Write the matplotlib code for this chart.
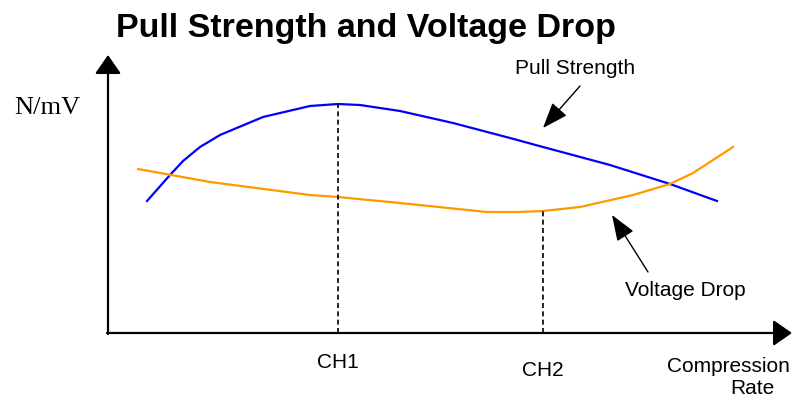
import matplotlib
matplotlib.use("Agg")
import matplotlib.pyplot as plt

# Data (arbitrary units: compression rate vs N/mV)
pull_x = [3.9, 6.2, 7.5, 9.2, 11.2, 15.5, 20.2, 23.0, 25.2, 29.2, 34.5, 40.2, 43.5, 50.2, 56.2, 60.9]
pull_y = [13.2, 15.8, 17.2, 18.6, 19.8, 21.6, 22.7, 22.9, 22.8, 22.2, 21.0, 19.5, 18.6, 16.8, 14.9, 13.2]
volt_x = [3.0, 10.2, 20.2, 23.0, 29.2, 37.9, 40.9, 43.5, 47.2, 52.5, 56.2, 58.5, 62.5]
volt_y = [16.4, 15.1, 13.8, 13.6, 13.0, 12.1, 12.1, 12.2, 12.6, 13.8, 14.9, 16.0, 18.6]
ch_labels = ["CH1", "CH2"]
ch_x = [23.0, 43.5]
ch_top = [22.9, 12.2]

fig = plt.figure(figsize=(7.93, 4.0), dpi=100)
ax = fig.add_axes([0, 0, 1, 1])
ax.set_xlim(-10.8, 68.5)
ax.set_ylim(-6.7, 33.3)
ax.axis("off")

sans = ["Liberation Sans", "DejaVu Sans"]
serif = ["Liberation Serif", "DejaVu Serif"]
lab_fs = 15

# Axes with arrow heads
axis_style = "-|>,head_length=1.15,head_width=0.8"
ax.annotate("", xy=(0, 27.8), xytext=(0, -0.1),
            arrowprops=dict(arrowstyle=axis_style, mutation_scale=10, lw=1.6,
                            color="black", shrinkA=0, shrinkB=0))
ax.annotate("", xy=(68.4, 0), xytext=(-0.1, 0),
            arrowprops=dict(arrowstyle=axis_style, mutation_scale=10, lw=1.6,
                            color="black", shrinkA=0, shrinkB=0))

# Curves
ax.plot(pull_x, pull_y, color="#0000FF", lw=1.6, solid_joinstyle="round")
ax.plot(volt_x, volt_y, color="#FF9900", lw=1.6, solid_joinstyle="round")

# Dashed markers
for cx, top in zip(ch_x, ch_top):
    ax.plot([cx, cx], [0, top], color="black", lw=1.2, ls=(0, (3, 2)))
ax.text(ch_x[0], -2.9, ch_labels[0], ha="center", va="center", fontsize=lab_fs, family=sans)
ax.text(ch_x[1], -3.7, ch_labels[1], ha="center", va="center", fontsize=lab_fs, family=sans)

ax.text(62.0, -3.4, "Compression", ha="center", va="center", fontsize=lab_fs, family=sans)
ax.text(64.4, -5.6, "Rate", ha="center", va="center", fontsize=lab_fs, family=sans)

ax.text(-6.1, 22.5, "N/mV", ha="center", va="center", fontsize=19, family=serif)

# Series labels with arrows
arrow_style = "-|>,head_length=1.6,head_width=0.6"
ax.text(46.7, 26.5, "Pull Strength", ha="center", va="center", fontsize=lab_fs, family=sans)
ax.annotate("", xy=(43.5, 20.5), xytext=(47.2, 24.7),
            arrowprops=dict(arrowstyle=arrow_style, mutation_scale=10, lw=1.0,
                            color="black", shrinkA=0, shrinkB=0))
ax.text(57.7, 4.3, "Voltage Drop", ha="center", va="center", fontsize=lab_fs, family=sans)
ax.annotate("", xy=(50.4, 11.8), xytext=(54.0, 6.1),
            arrowprops=dict(arrowstyle=arrow_style, mutation_scale=10, lw=1.0,
                            color="black", shrinkA=0, shrinkB=0))

ax.text(25.8, 30.5, "Pull Strength and Voltage Drop", ha="center", va="center",
        fontsize=24.5, fontweight="bold", family=sans)

fig.savefig("out.png", dpi=100)
